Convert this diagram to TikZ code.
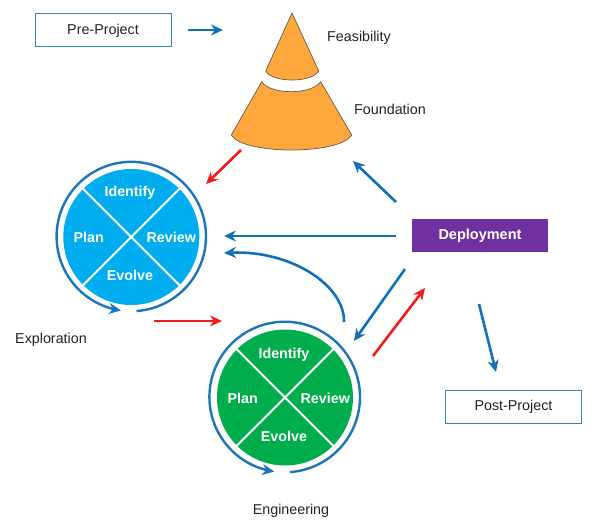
\documentclass[tikz,border=0pt]{standalone}
\usepackage{fontspec}
\setmainfont{Liberation Sans}
\usetikzlibrary{arrows.meta}
\definecolor{arrowblue}{HTML}{1070B8}
\definecolor{ringblue}{HTML}{1B75BC}
\definecolor{arrowred}{HTML}{F01C1C}
\definecolor{boxline}{HTML}{31859C}
\definecolor{conefill}{HTML}{FFA63D}
\definecolor{coneline}{HTML}{6B5B45}
\definecolor{pieblue}{HTML}{00ADEF}
\definecolor{piegreen}{HTML}{00AD4D}
\definecolor{deploy}{HTML}{7030A0}
\definecolor{labeltext}{HTML}{222222}
\tikzset{
  bluearrow/.style={draw=arrowblue,line width=2.6pt,-{Stealth[length=12pt,width=11pt]}},
  redarrow/.style={draw=arrowred,line width=2.6pt,-{Stealth[length=12pt,width=11pt]}},
  ring/.style={draw=ringblue,line width=2.4pt,-{Stealth[length=12pt,width=11pt]}},
  cone/.style={fill=conefill,draw=coneline,line width=0.7pt,line join=round},
  outlinebox/.style={draw=boxline,line width=1pt,fill=white,minimum width=136pt,minimum height=33pt,inner sep=0pt,text=labeltext,font=\fontsize{14.3}{16}\selectfont},
  plainlabel/.style={inner sep=0pt,text=labeltext,yshift=-1.5pt,font=\fontsize{14.3}{16}\selectfont},
  pie/.style={circle,minimum size=136pt,inner sep=0pt},
  spoke/.style={draw=white,line width=2pt},
  pietext/.style={inner sep=0pt,text=white,yshift=-1.5pt,font=\fontsize{14.3}{16}\selectfont\bfseries}
}
\begin{document}
\begin{tikzpicture}[x=1pt,y=-1pt]
\useasboundingbox (0,0) rectangle (600,524);
% cone
\draw[cone] (292,13) -- (318.7,71) .. controls (312,83) and (272,83) .. (265.7,71) -- cycle;
\draw[cone] (261.7,81.7) .. controls (270,95) and (312,95) .. (320.7,81.7) -- (351.7,135) .. controls (340,155) and (243,155) .. (231.3,135) -- cycle;
% boxes
\node[outlinebox] (pre) at (103,30.5) {\raisebox{-1.5pt}{Pre-Project}};
\node[outlinebox] (post) at (513.5,407) {\raisebox{-1.5pt}{Post-Project}};
\node[minimum width=136pt,minimum height=33pt,inner sep=0pt,fill=deploy,text=white,font=\fontsize{14.5}{16}\selectfont\bfseries] (dep) at (480,235.5) {Deployment};
% labels
\node[plainlabel] (fea) at (359,36) {Feasibility};
\node[plainlabel] (fou) at (390,108) {Foundation};
\node[plainlabel] (exp) at (51,338) {Exploration};
\node[plainlabel] (eng) at (291,509) {Engineering};
% exploration wheel
\node[pie,fill=pieblue] (w1) at (131.3,237) {};
\draw[spoke] (w1.45) -- (w1.225);
\draw[spoke] (w1.135) -- (w1.315);
\node[pietext] (w1a) at (130,191.5) {Identify};
\node[pietext] (w1b) at (88.7,236) {Plan};
\node[pietext] (w1c) at (171.3,236) {Review};
\node[pietext] (w1d) at (130,274) {Evolve};
\draw[ring] plot[domain=-86:262,samples=120] ({131.3+74.7*cos(\x)},{236.5-74.7*sin(\x)});
% engineering wheel
\node[pie,fill=piegreen] (w2) at (285,397.5) {};
\draw[spoke] (w2.45) -- (w2.225);
\draw[spoke] (w2.135) -- (w2.315);
\node[pietext] (w2a) at (284,353) {Identify};
\node[pietext] (w2b) at (242.7,397) {Plan};
\node[pietext] (w2c) at (325.3,397) {Review};
\node[pietext] (w2d) at (284,434.7) {Evolve};
\draw[ring] plot[domain=-86:262,samples=120] ({284.7+75.3*cos(\x)},{397-75.3*sin(\x)});
% arrow ends
\coordinate (a1s) at (188,30); \coordinate (a1e) at (223,30);
\coordinate (a2s) at (241,150); \coordinate (a2e) at (206,184);
\coordinate (a3s) at (396,202); \coordinate (a3e) at (353,161);
\coordinate (a4s) at (396,236); \coordinate (a4e) at (224,236);
\coordinate (a5s) at (344,322); \coordinate (a5e) at (224,253);
\coordinate (a6s) at (405,269); \coordinate (a6e) at (354,341);
\coordinate (a7s) at (373,356); \coordinate (a7e) at (425,288);
\coordinate (a8s) at (479,304); \coordinate (a8e) at (496,372);
\coordinate (a9s) at (154,321); \coordinate (a9e) at (222,321);
\draw[bluearrow] (a1s) -- (a1e);
\draw[redarrow] (a2s) -- (a2e);
\draw[bluearrow] (a3s) -- (a3e);
\draw[bluearrow] (a4s) -- (a4e);
\draw[bluearrow] (a5s) .. controls (345,285) and (290,250) .. (a5e);
\draw[bluearrow] (a6s) -- (a6e);
\draw[redarrow] (a7s) -- (a7e);
\draw[bluearrow] (a8s) -- (a8e);
\draw[redarrow] (a9s) -- (a9e);
\end{tikzpicture}
\end{document}
